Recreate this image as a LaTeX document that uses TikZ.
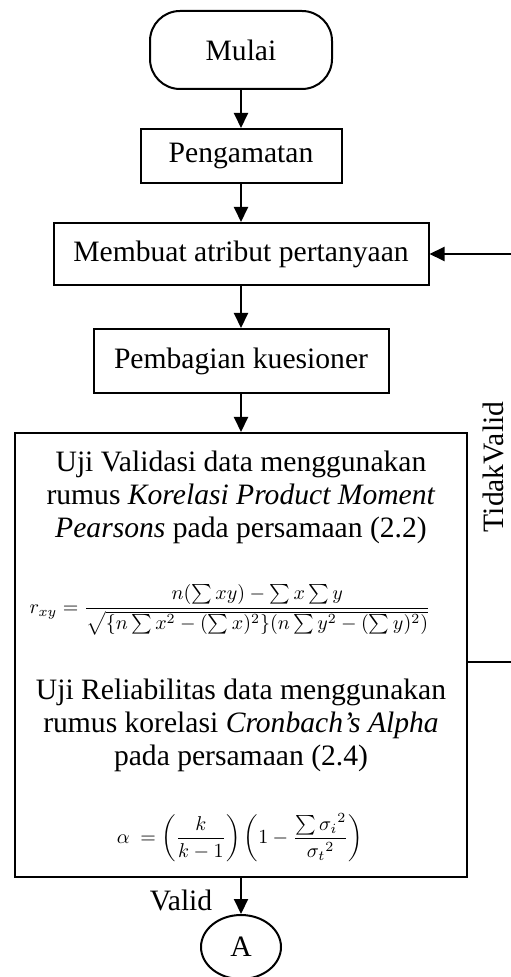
\documentclass[tikz,border=0pt]{standalone}
\usepackage{amsmath,amssymb}
\usepackage{fontspec}
\setmainfont{Liberation Serif}
\usetikzlibrary{arrows.meta,positioning,calc,shapes.geometric}

\tikzset{
  garis/.style={line width=1pt},
  panah/.style={garis,-{Triangle[length=7.5pt,width=7pt]}},
  proses/.style={draw,garis,align=center,inner sep=0pt},
  terminal/.style={proses,rounded corners=15pt},
  konektor/.style={draw,garis,ellipse,inner sep=0pt}
}

\begin{document}
\begin{tikzpicture}[x=0.5pt,y=-0.5pt,font=\fontsize{14.8}{16.5}\selectfont]
\useasboundingbox (0,0) rectangle (510,977);
% alur utama
\node[terminal,minimum width=91pt,minimum height=39pt] (mulai) at (241,50) {Mulai};
\node[proses,minimum width=100.5pt,minimum height=27pt] (amat) at (241,156) {Pengamatan};
\node[proses,minimum width=187.5pt,minimum height=31pt] (atribut) at (241,254) {Membuat atribut pertanyaan};
\node[proses,minimum width=147.5pt,minimum height=32pt] (bagi) at (241,361) {Pembagian kuesioner};
\node[proses,minimum width=226pt,minimum height=222pt] (uji) at (241,655) {};
% isi kotak uji
\node[align=center] (validasi) at (241,497) {Uji Validasi data menggunakan\\
  rumus \textit{Korelasi Product Moment}\\ \textit{Pearsons} pada persamaan (2.2)};
\node (rumus1) at (230,610) {\fontsize{9.8}{12}\selectfont
  $r_{xy} = \dfrac{n(\sum xy)-\sum x\sum y}{\sqrt{\{n\sum x^2-(\sum x)^2\}(n\sum y^2-(\sum y)^2)}}$};
\node[align=center] (reliabel) at (241,725) {Uji Reliabilitas data menggunakan\\
  rumus korelasi \textit{Cronbach's Alpha}\\ pada persamaan (2.4)};
\node (rumus2) at (240,838) {\fontsize{9.8}{12}\selectfont
  $\alpha\ = \left(\dfrac{k}{k-1}\right)\left(1-\dfrac{\sum{\sigma_i}^2}{{\sigma_t}^2}\right)$};
\node[konektor,minimum width=40pt,minimum height=32pt] (A) at (241,947) {A};
% label
\node (valid) at (181,900) {Valid};
\node[rotate=90] (tidak) at (493,467) {TidakValid};
% panah
\draw[panah] (mulai) -- (amat);
\draw[panah] (amat) -- (atribut);
\draw[panah] (atribut) -- (bagi);
\draw[panah] (bagi) -- (uji);
\draw[panah] (uji) -- (A);
% kembali jika tidak valid
\draw[panah] ([yshift=-3.5pt]uji.east) -- ++(23.5pt,0) |- (atribut.east);
\end{tikzpicture}
\end{document}
